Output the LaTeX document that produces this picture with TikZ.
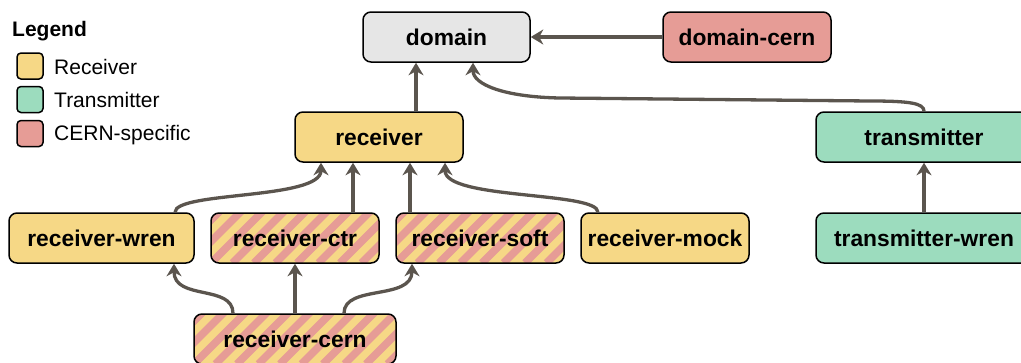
\documentclass[tikz,border=0pt]{standalone}
\usepackage{fontspec}
\setmainfont{Liberation Sans}
\usetikzlibrary{arrows.meta,calc}
\definecolor{recv}{HTML}{F6D886}
\definecolor{trans}{HTML}{9CDCBE}
\definecolor{cern}{HTML}{E69C96}
\definecolor{dom}{HTML}{E6E6E6}
\definecolor{edgec}{HTML}{5B554E}
\begin{document}
\begin{tikzpicture}[x=1pt,y=-1pt,
  box/.style={draw=black, line width=1.5pt, rounded corners=8pt, minimum height=50pt, inner sep=0pt,
    font=\fontsize{22.8}{27}\selectfont\bfseries},
  recvbox/.style={box, fill=recv},
  transbox/.style={box, fill=trans},
  cernbox/.style={box, fill=cern},
  dombox/.style={box, fill=dom},
  hatchbox/.style={box, fill=recv, path picture={
    \foreach \k in {-4,...,11}{
      \draw[cern, line width=7.6pt] ([xshift=\k*21.5pt]path picture bounding box.south west) -- ++(80pt,80pt);
    }}},
  swatch/.style={draw=black, line width=1.5pt, rounded corners=4pt, minimum size=26pt, inner sep=0pt},
  legtext/.style={anchor=base west, inner sep=0pt, font=\fontsize{21}{24}\selectfont},
  arr/.style={draw=edgec, line width=3.3pt, -{Stealth[length=12.5pt,width=15pt,inset=4pt]}},
]
\useasboundingbox (0,0) rectangle (1021,362);
\clip (0,0) rectangle (1021,362);

% legend
\node[anchor=base west, inner sep=0pt, font=\fontsize{21}{24}\selectfont\bfseries] (legtitle) at (12,36) {Legend};
\node[swatch, fill=recv] (swr) at (30,66) {};
\node[swatch, fill=trans] (swt) at (30,99.5) {};
\node[swatch, fill=cern] (swc) at (30,133.5) {};
\node[legtext] (ltr) at (54,74) {Receiver};
\node[legtext] (ltt) at (54,107) {Transmitter};
\node[legtext] (ltc) at (54,140) {CERN-specific};

% nodes
\node[dombox, minimum width=167pt] (domain) at (446.5,37) {domain};
\node[cernbox, minimum width=168pt] (domaincern) at (747,37) {domain-cern};
\node[recvbox, minimum width=168pt] (receiver) at (379,137) {receiver};
\node[transbox, minimum width=216pt] (transmitter) at (924,137) {transmitter};
\node[recvbox, minimum width=185pt] (rwren) at (101.5,238) {receiver-wren};
\node[hatchbox, minimum width=168pt] (rctr) at (295,238) {receiver-ctr};
\node[hatchbox, minimum width=168pt] (rsoft) at (480,238) {receiver-soft};
\node[recvbox, minimum width=168pt] (rmock) at (665,238) {receiver-mock};
\node[transbox, minimum width=216pt] (twren) at (924,238) {transmitter-wren};
\node[hatchbox, minimum width=202pt] (rcern) at (295,339) {receiver-cern};

% edges
\draw[arr] (domaincern) -- (domain);
\draw[arr] ([xshift=37pt]receiver.north) -- ([xshift=-30.5pt]domain.south);
\draw[arr] (transmitter.north) .. controls +(0,-8) and +(40,0) .. (870,101) -- (560,98)
  .. controls +(-55,-1) and +(0,22) .. ([xshift=26.5pt]domain.south);
\draw[arr] (twren) -- (transmitter);
\draw[arr] ([xshift=73.5pt]rwren.north) .. controls +(0,-21) and +(0,37) .. ([xshift=-58pt]receiver.south);
\draw[arr] ([xshift=58pt]rctr.north) -- ([xshift=-26pt]receiver.south);
\draw[arr] ([xshift=-70pt]rsoft.north) -- ([xshift=31pt]receiver.south);
\draw[arr] ([xshift=-67pt]rmock.north) .. controls +(0,-21) and +(0,37) .. ([xshift=66pt]receiver.south);
\draw[arr] ([xshift=-62pt]rcern.north) .. controls +(0,-29) and +(0,37) .. ([xshift=72.5pt]rwren.south);
\draw[arr] (rcern) -- (rctr);
\draw[arr] ([xshift=49pt]rcern.north) .. controls +(0,-29) and +(0,37) .. ([xshift=-68pt]rsoft.south);
\end{tikzpicture}
\end{document}
